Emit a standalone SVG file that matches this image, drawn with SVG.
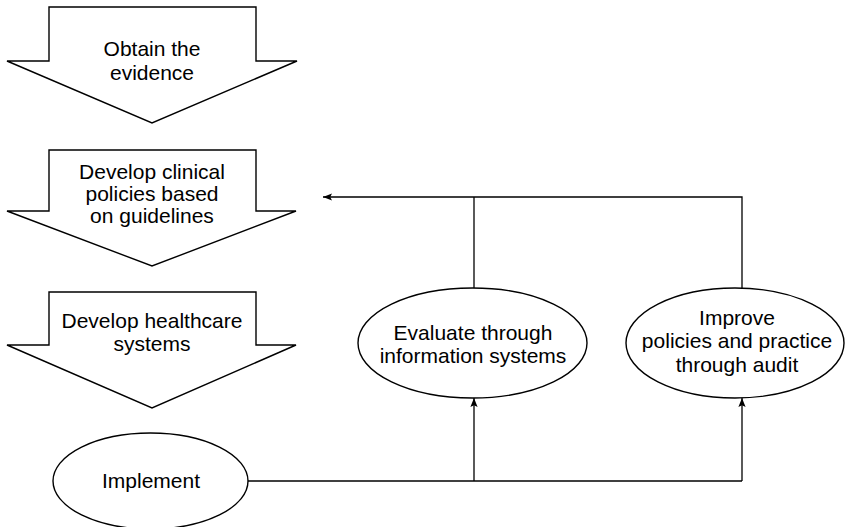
<svg xmlns="http://www.w3.org/2000/svg" width="846" height="527" viewBox="0 0 846 527">
  <style>
    .shape { fill: #ffffff; stroke: #000000; stroke-width: 1.4; stroke-linejoin: miter; }
    .label { font-family: "Liberation Sans", Arial, sans-serif; font-size: 21px; fill: #000000; text-anchor: middle; }
    .link { fill: none; stroke: #000000; stroke-width: 1.3; }
  </style>
  <defs>
    <marker id="head" viewBox="0 0 10 10" refX="10" refY="5" markerWidth="9" markerHeight="9" markerUnits="userSpaceOnUse" orient="auto">
      <path d="M0,1 L10,5 L0,9 L2,5 Z" fill="#000000"/>
    </marker>
  </defs>
  <rect width="846" height="527" fill="#ffffff"/>

  <!-- Block arrows: the top-down sequence -->
  <g id="obtain-evidence">
    <polygon class="shape" points="49,7 256,7 256,61 297,61 152,123 7,61 49,61"/>
    <text class="label" x="152" y="56">Obtain the</text>
    <text class="label" x="152" y="80">evidence</text>
  </g>
  <g id="develop-policies">
    <polygon class="shape" points="49,150 256,150 256,211 296,211 152,266 7,211 49,211"/>
    <text class="label" x="152" y="179">Develop clinical</text>
    <text class="label" x="152" y="201">policies based</text>
    <text class="label" x="152" y="223">on guidelines</text>
  </g>
  <g id="develop-systems">
    <polygon class="shape" points="49,292 256,292 256,345 296,345 152,408 7,345 49,345"/>
    <text class="label" x="152" y="328">Develop healthcare</text>
    <text class="label" x="152" y="351">systems</text>
  </g>

  <!-- Connectors -->
  <g id="connectors">
    <path class="link" d="M248,481 H742"/>
    <path class="link" d="M474,481 V398" marker-end="url(#head)"/>
    <path class="link" d="M742,481 V398" marker-end="url(#head)"/>
    <path class="link" d="M474,288 V197"/>
    <path class="link" d="M742,288 V197 H323" marker-end="url(#head)"/>
  </g>

  <!-- Oval steps -->
  <g id="implement">
    <ellipse class="shape" cx="150.5" cy="481" rx="97.5" ry="48"/>
    <text class="label" x="151" y="488">Implement</text>
  </g>
  <g id="evaluate">
    <ellipse class="shape" cx="472.5" cy="343" rx="114.5" ry="55"/>
    <text class="label" x="473" y="340">Evaluate through</text>
    <text class="label" x="473" y="363">information systems</text>
  </g>
  <g id="improve">
    <ellipse class="shape" cx="735" cy="343" rx="109" ry="55"/>
    <text class="label" x="737" y="325">Improve</text>
    <text class="label" x="737" y="348">policies and practice</text>
    <text class="label" x="737" y="372">through audit</text>
  </g>
</svg>
